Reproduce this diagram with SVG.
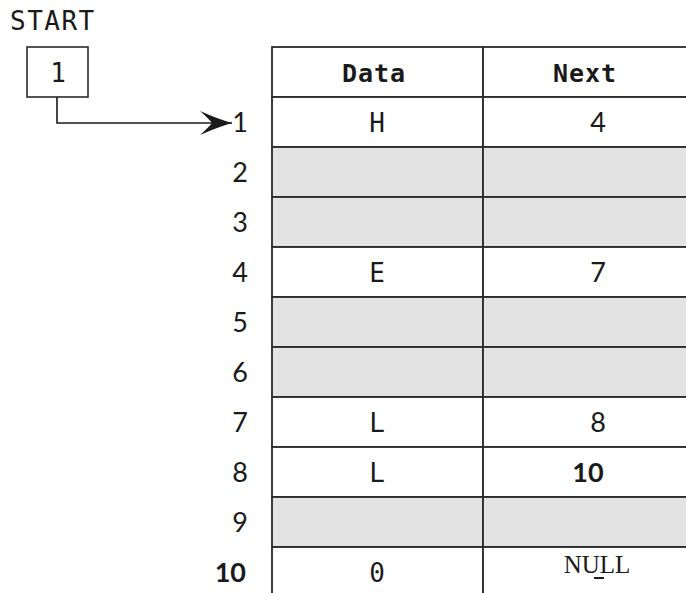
<svg xmlns="http://www.w3.org/2000/svg" width="686" height="593" viewBox="0 0 686 593">
<style>
.cell{stroke:#2a2a2a;stroke-width:1.8;}
.w{fill:#ffffff;}
.g{fill:#e3e3e3;}
.mono{font-family:"DejaVu Sans Mono","Liberation Mono",monospace;fill:#1a1a1a;}
.hdr{font-size:25px;font-weight:bold;letter-spacing:1px;text-anchor:middle;}
.dat{font-size:26px;text-anchor:middle;}
.idx{font-family:Lato,"Liberation Sans",sans-serif;font-size:27px;fill:#1a1a1a;text-anchor:end;}
.nxt{font-family:Lato,"Liberation Sans",sans-serif;font-size:27px;fill:#1a1a1a;text-anchor:middle;}
.conn{fill:none;stroke:#1a1a1a;stroke-width:1.6;}
</style>
<defs>
<marker id="arr" markerUnits="userSpaceOnUse" markerWidth="34" markerHeight="26" refX="32" refY="13" orient="auto">
<path d="M32,13 Q18,9 0,1 Q9,9 12,13 Q9,17 0,25 Q18,17 32,13 Z" fill="#1a1a1a"/>
</marker>
</defs>
<rect width="686" height="593" fill="#ffffff"/>
<g id="start">
<text class="mono" x="10" y="30" font-size="26" letter-spacing="1.5">START</text>
<rect x="27" y="47" width="61" height="50" fill="#ffffff" stroke="#2a2a2a" stroke-width="1.6"/>
<text class="mono dat" x="58" y="82">1</text>
</g>
<g id="table">
<g id="header">
<rect class="cell w" x="272" y="47" width="211" height="50"/>
<rect class="cell w" x="483" y="47" width="240" height="50"/>
<text class="mono hdr" x="374" y="82">Data</text>
<text class="mono hdr" x="585" y="82">Next</text>
</g>
<g id="row1">
<rect class="cell w" x="272" y="97" width="211" height="50"/>
<rect class="cell w" x="483" y="97" width="240" height="50"/>
<text class="idx" x="248" y="132">1</text>
<text class="mono dat" x="377" y="132">H</text>
<text class="nxt" x="598" y="132">4</text>
</g>
<g id="row2">
<rect class="cell g" x="272" y="147" width="211" height="50"/>
<rect class="cell g" x="483" y="147" width="240" height="50"/>
<text class="idx" x="248" y="182">2</text>
</g>
<g id="row3">
<rect class="cell g" x="272" y="197" width="211" height="50"/>
<rect class="cell g" x="483" y="197" width="240" height="50"/>
<text class="idx" x="248" y="232">3</text>
</g>
<g id="row4">
<rect class="cell w" x="272" y="247" width="211" height="50"/>
<rect class="cell w" x="483" y="247" width="240" height="50"/>
<text class="idx" x="248" y="282">4</text>
<text class="mono dat" x="377" y="282">E</text>
<text class="nxt" x="598" y="282">7</text>
</g>
<g id="row5">
<rect class="cell g" x="272" y="297" width="211" height="50"/>
<rect class="cell g" x="483" y="297" width="240" height="50"/>
<text class="idx" x="248" y="332">5</text>
</g>
<g id="row6">
<rect class="cell g" x="272" y="347" width="211" height="50"/>
<rect class="cell g" x="483" y="347" width="240" height="50"/>
<text class="idx" x="248" y="382">6</text>
</g>
<g id="row7">
<rect class="cell w" x="272" y="397" width="211" height="50"/>
<rect class="cell w" x="483" y="397" width="240" height="50"/>
<text class="idx" x="248" y="432">7</text>
<text class="mono dat" x="377" y="432">L</text>
<text class="nxt" x="598" y="432">8</text>
</g>
<g id="row8">
<rect class="cell w" x="272" y="447" width="211" height="50"/>
<rect class="cell w" x="483" y="447" width="240" height="50"/>
<text class="idx" x="248" y="482">8</text>
<text class="mono dat" x="377" y="482">L</text>
<text class="nxt" x="588" y="482" font-weight="bold">10</text>
</g>
<g id="row9">
<rect class="cell g" x="272" y="497" width="211" height="50"/>
<rect class="cell g" x="483" y="497" width="240" height="50"/>
<text class="idx" x="248" y="532">9</text>
</g>
<g id="row10">
<rect class="cell w" x="272" y="547" width="211" height="60"/>
<rect class="cell w" x="483" y="547" width="240" height="60"/>
<text class="idx" x="246" y="582" font-weight="bold">10</text>
<text class="mono dat" x="377" y="582">0</text>
<text x="597" y="573" font-family="'Liberation Serif',serif" font-size="25" fill="#1a1a1a" text-anchor="middle">NULL</text>
<rect x="594" y="577" width="10" height="2" fill="#1a1a1a"/>
</g>
</g>
<g id="connectors">
<path class="conn" d="M57,97 L57,123 L232,123" marker-end="url(#arr)"/>
</g>
</svg>
